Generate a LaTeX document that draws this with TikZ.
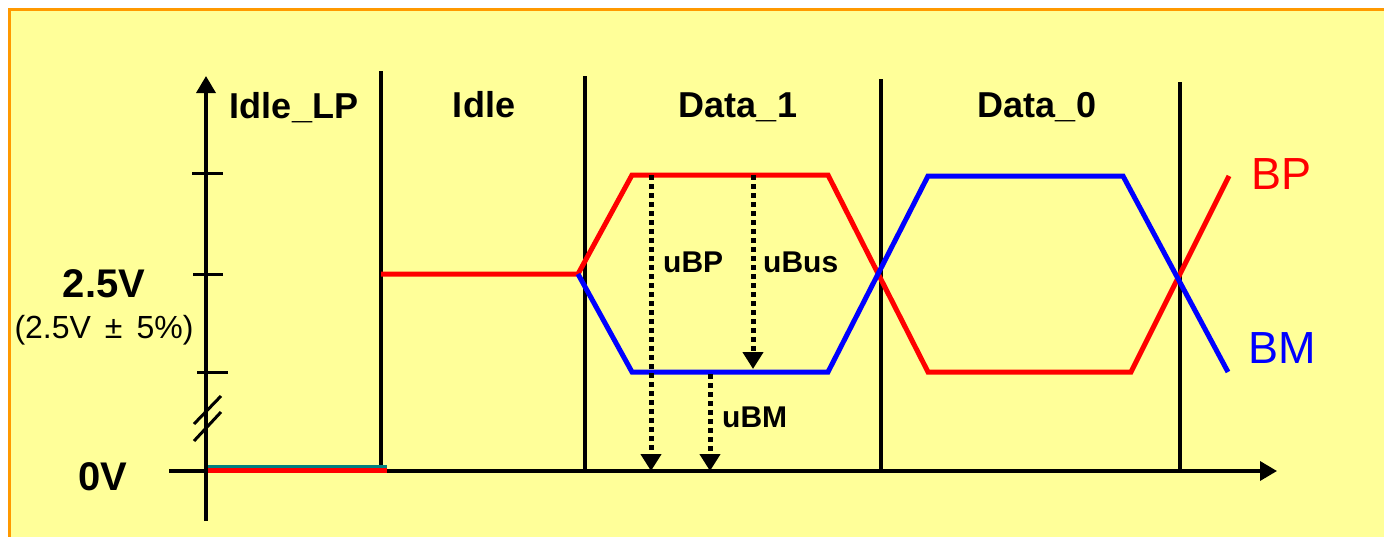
\documentclass[tikz,border=0pt]{standalone}
\usepackage{fontspec}
\setmainfont{Liberation Sans}
\usetikzlibrary{arrows.meta}
\definecolor{panel}{RGB}{255,255,153}
\definecolor{frameorange}{RGB}{255,153,0}
\definecolor{bpred}{RGB}{255,0,0}
\definecolor{bmblue}{RGB}{0,0,255}
\definecolor{idleteal}{RGB}{0,128,128}
\tikzset{
  axis/.style={line width=3.5pt},
  divider/.style={line width=3.5pt},
  tickmark/.style={line width=3pt},
  bpline/.style={bpred, line width=5pt, line join=miter},
  bmline/.style={bmblue, line width=5pt, line join=miter},
  measure/.style={line width=5pt, dash pattern=on 4.5pt off 4.5pt,
    -{Triangle[width=20pt,length=17pt]}},
  phase/.style={font=\fontsize{36}{40}\selectfont\bfseries, anchor=base},
  level/.style={font=\fontsize{40}{44}\selectfont\bfseries, anchor=base},
  mlabel/.style={font=\fontsize{30}{34}\selectfont\bfseries, anchor=base west, inner sep=0pt},
  siglabel/.style={font=\fontsize{45}{50}\selectfont, anchor=base west, inner sep=0pt}
}
\begin{document}
\begin{tikzpicture}[x=1pt,y=-1pt]
\useasboundingbox (0,0) rectangle (1384,536);
\clip (0,0) rectangle (1384,536);
% panel
\draw[frameorange, line width=2.5pt, fill=panel] (9.5,9.5) rectangle (1420,580);

% phase dividers
\draw[divider] (381,71) -- (381,471);
\draw[divider] (585,76) -- (585,471);
\draw[divider] (881,79) -- (881,471);
\draw[divider] (1180,82) -- (1180,471);

% axes
\coordinate (xstart) at (169,471);
\coordinate (xend) at (1277,471);
\coordinate (ystart) at (206,521);
\coordinate (yend) at (206,76);
\draw[axis, -{Triangle[width=19pt,length=17pt]}] (xstart) -- (xend);
\draw[axis, -{Triangle[width=19pt,length=17pt]}] (ystart) -- (yend);

% ticks on the voltage axis
\draw[tickmark] (192,173) -- (223,173);
\draw[tickmark] (193,274) -- (223,274);
\draw[tickmark] (197,372) -- (228,372);
% axis break
\draw[tickmark] (194,424) -- (221,396);
\draw[tickmark] (194,441) -- (221,412);

% Idle_LP: both lines at 0V
\draw[idleteal, line width=3pt] (208,466) -- (387,466);
\draw[bpred, line width=5pt] (208,470) -- (387,470);

% BP
\draw[bpline] (381,274) -- (578,274) -- (632,175) -- (828,175)
  -- (928,372) -- (1131,372) -- (1229,176);
% BM
\draw[bmline] (578,274) -- (632,372) -- (828,372) -- (928,176)
  -- (1123,176) -- (1228,372);

% measured voltages
\coordinate (ubpTop) at (651,175);
\coordinate (ubpEnd) at (651,471);
\coordinate (ubusTop) at (753,175);
\coordinate (ubusEnd) at (753,369);
\coordinate (ubmTop) at (710,374);
\coordinate (ubmEnd) at (710,471);
\draw[measure] (ubpTop) -- (ubpEnd);
\draw[measure] (ubusTop) -- (ubusEnd);
\draw[measure] (ubmTop) -- (ubmEnd);

\node[mlabel] (uBP) at (663,272) {uBP};
\node[mlabel] (uBus) at (763,272) {uBus};
\node[mlabel] (uBM) at (722,427) {uBM};

% phase names
\node[phase] (idlelp) at (294,118) {Idle\_LP};
\node[phase] (idle) at (484,117) {Idle};
\node[phase] (data1) at (738,117) {Data\_1};
\node[phase] (data0) at (1037,117) {Data\_0};

% voltage levels
\node[level] (v25) at (104,297) {2.5V};
\node[font=\fontsize{32}{34}\selectfont, anchor=base] (tol) at (104,338)
  {(2.5V\hspace{14pt}±\hspace{14pt}5\%)};
\node[level] (v0) at (103,490) {0V};

% signal names
\node[siglabel, text=bpred] (bp) at (1251,189) {BP};
\node[siglabel, text=bmblue] (bm) at (1248,363) {BM};
\end{tikzpicture}
\end{document}
